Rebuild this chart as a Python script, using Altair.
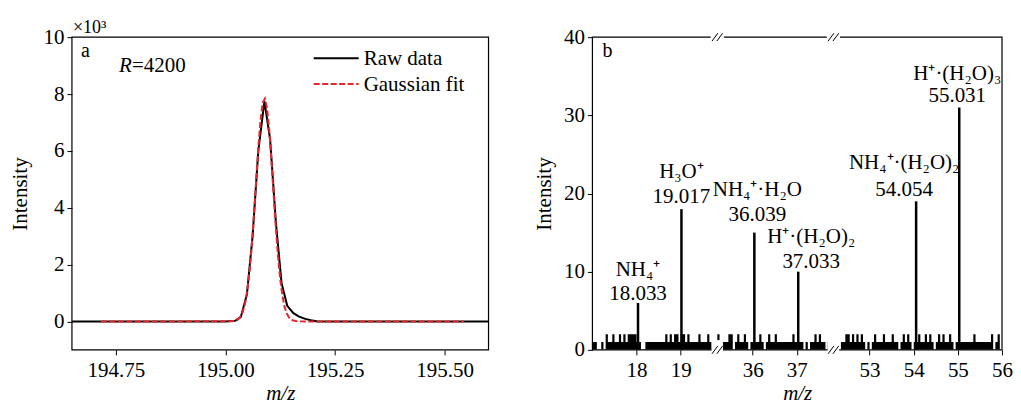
import altair as alt
import pandas as pd

FONT = "Liberation Serif"
RED = "#e8262d"

# ---------------- panel a: single peak ----------------
raw_mz = [194.600, 195.000, 195.022, 195.035, 195.049, 195.062, 195.075, 195.089, 195.102,
          195.115, 195.128, 195.141, 195.155, 195.168, 195.182, 195.195, 195.210, 195.650]
raw_int = [0.0, 0.0, 0.02, 0.15, 0.95, 3.0, 6.0, 7.75, 6.4,
           3.5, 1.35, 0.55, 0.29, 0.17, 0.09, 0.04, 0.0, 0.0]

fit_mz = [194.716, 195.010, 195.020, 195.025, 195.030, 195.035, 195.040, 195.045, 195.050,
          195.055, 195.060, 195.065, 195.070, 195.075, 195.080, 195.085, 195.090, 195.095,
          195.100, 195.105, 195.110, 195.115, 195.120, 195.125, 195.130, 195.135, 195.140,
          195.145, 195.150, 195.155, 195.160, 195.170, 195.544]
fit_int = [0.0, 0.003, 0.017, 0.04, 0.088, 0.183, 0.356, 0.648, 1.106,
           1.77, 2.656, 3.74, 4.93, 6.10, 7.07, 7.69, 7.84, 7.49,
           6.72, 5.64, 4.45, 3.29, 2.28, 1.48, 0.90, 0.51, 0.275,
           0.14, 0.065, 0.03, 0.012, 0.002, 0.0]

a_xdomain = [194.65, 195.60]
a_ydomain = [-1, 10]
a_xticks = [194.75, 195.00, 195.25, 195.50]
a_yticks = [0, 2, 4, 6, 8, 10]
legend_labels = ["Raw data", "Gaussian fit"]

# ---------------- panel b: spectrum with broken axis ----------------
seg_start = [17.0, 35.2, 52.18]
seg_end = [19.83, 37.83, 56.0]
noise_start = [17.0, 35.2, 52.2]
noise_step = 0.05
noise1 = [1, 1, 0, 0, 1, 0, 2, 1, 1, 2, 1, 1, 2, 1, 2, 1, 2, 2, 2, 2,
          1, 1, 0, 0, 1, 1, 1, 1, 1, 1, 1, 1, 1, 2, 1, 2, 1, 2, 2, 1,
          2, 2, 1, 2, 1, 1, 1, 1, 2, 1, 1, 1, 2, 1, 0, 1, 1]
noise2 = [1, 1, 1, 1, 1, 2, 2, 0, 1, 2, 1, 1, 2, 1, 0, 1, 1, 1, 1, 2,
          1, 0, 1, 2, 1, 1, 2, 1, 1, 1, 1, 1, 1, 1, 2, 1, 1, 1, 1, 0,
          1, 0, 1, 1, 2, 1, 2, 1, 1, 0, 1, 1, 1]
noise3 = [1, 1, 0, 1, 1, 2, 2, 1, 2, 1, 2, 1, 2, 1, 0, 1, 0, 1, 2, 1,
          1, 1, 2, 1, 1, 1, 2, 1, 1, 0, 1, 2, 1, 2, 1, 0, 1, 1, 2, 1,
          1, 2, 1, 2, 1, 0, 1, 2, 1, 2, 1, 1, 2, 1, 0, 1, 1, 1, 1, 1,
          1, 1, 1, 2, 1, 1, 1, 1, 1, 1, 1, 2, 0, 1, 2, 0, 1]
peak_mz = [18.033, 19.017, 36.039, 37.033, 54.054, 55.031]
peak_int = [6, 18, 15, 10, 19, 31]
peak_ion = ["NH₄⁺", "H₃O⁺", "NH₄⁺·H₂O", "H⁺·(H₂O)₂", "NH₄⁺·(H₂O)₂", "H⁺·(H₂O)₃"]
peak_text = ["18.033", "19.017", "36.039", "37.033", "54.054", "55.031"]
b_xticks = [18, 19, 36, 37, 53, 54, 55, 56]
b_yticks = [0, 10, 20, 30, 40]
b_ydomain = [0, 40]

# label layout (px): horizontal shift, gap above peak, gap between the two lines
label_dx = [0, 0, 3, 13, -12, -2]
label_gap = [3, 6, 12, 4, 5, 6]
label_line = [24, 25, 25, 25, 27, 22]

W_A, W_B, H = 417, 410, 313
FS = 21

# ---------- broken axis mapping ----------
offsets = []
acc = 0.0
for s, e in zip(seg_start, seg_end):
    offsets.append(acc)
    acc += e - s
TOTAL = acc


def brk(mz):
    for s, e, o in zip(seg_start, seg_end, offsets):
        if s - 1e-9 <= mz <= e + 1e-9:
            return o + mz - s
    return None


def txt(label, x, y, size=FS, style="normal", align="left", baseline="alphabetic"):
    return alt.Chart(pd.DataFrame({"t": [label]})).mark_text(
        font=FONT, fontSize=size, fontStyle=style, align=align, baseline=baseline, color="black"
    ).encode(x=alt.value(x), y=alt.value(y), text="t:N")


# ================= panel a =================
XA = alt.X("x:Q", scale=alt.Scale(domain=a_xdomain, nice=False, zero=False),
           axis=alt.Axis(values=a_xticks, format=".2f", title="m/z", titleFontStyle="italic",
                         labelFlush=False, labelPadding=5, titlePadding=2))
YA = alt.Y("y:Q", scale=alt.Scale(domain=a_ydomain, nice=False, zero=False),
           axis=alt.Axis(values=a_yticks, format="d", title="Intensity", titlePadding=12))

raw_df = pd.DataFrame({"x": raw_mz, "y": raw_int})
fit_df = pd.DataFrame({"x": fit_mz, "y": fit_int})
frame_a_df = pd.DataFrame({"x": [a_xdomain[0]], "x2": [a_xdomain[1]],
                           "y": [a_ydomain[0]], "y2": [a_ydomain[1]]})

frame_a = alt.Chart(frame_a_df).mark_rect(fillOpacity=0, stroke="black", strokeWidth=1.2).encode(
    x=XA, x2="x2:Q", y=YA, y2="y2:Q")
raw_line = alt.Chart(raw_df).mark_line(color="black", strokeWidth=2, clip=True).encode(x=XA, y=YA)
fit_line = alt.Chart(fit_df).mark_line(color=RED, strokeWidth=2, strokeDash=[6, 2.5], clip=True).encode(x=XA, y=YA)

leg1 = alt.Chart(pd.DataFrame({"t": [legend_labels[0]]})).mark_rule(color="black", strokeWidth=2).encode(
    x=alt.value(242), x2=alt.value(287), y=alt.value(21))
leg2 = alt.Chart(pd.DataFrame({"t": [legend_labels[1]]})).mark_rule(
    color=RED, strokeWidth=2, strokeDash=[6, 2.5]).encode(x=alt.value(242), x2=alt.value(287), y=alt.value(47))
legt1 = txt(legend_labels[0], 292, 22, baseline="middle")
legt2 = txt(legend_labels[1], 292, 48, baseline="middle")

lab_a = txt("a", 9, 20, size=20)
r_it = txt("R", 47, 35, style="italic")
r_val = txt("=4200", 60, 35)
expo = txt("×10³", 1, -4, size=18)

panel_a = alt.layer(frame_a, raw_line, fit_line, leg1, leg2, legt1, legt2, lab_a, r_it, r_val, expo).properties(
    width=W_A, height=H)

# ================= panel b =================
label_expr = (
    f"datum.value < {offsets[1] - 1e-6} ? format(datum.value + {seg_start[0] - offsets[0]}, '.0f') : "
    f"datum.value < {offsets[2] - 1e-6} ? format(datum.value + {seg_start[1] - offsets[1]}, '.0f') : "
    f"format(datum.value + {seg_start[2] - offsets[2]}, '.0f')"
)
XB = alt.X("x:Q", scale=alt.Scale(domain=[0, TOTAL], nice=False, zero=False),
           axis=alt.Axis(values=[brk(v) for v in b_xticks], labelExpr=label_expr, title="m/z",
                         titleFontStyle="italic", labelFlush=False, labelPadding=5, titlePadding=2))
YB = alt.Y("y:Q", scale=alt.Scale(domain=b_ydomain, nice=False, zero=False),
           axis=alt.Axis(values=b_yticks, format="d", title="Intensity", titlePadding=9))

noise_rows = []
for k, (arr, ns) in enumerate(zip([noise1, noise2, noise3], noise_start)):
    e = seg_end[k]
    last = None
    for i, v in enumerate(arr):
        mz = ns + i * noise_step
        if mz > e:
            break
        noise_rows.append({"x": brk(mz), "y": v, "seg": k})
        last = v
    noise_rows.append({"x": brk(e), "y": last, "seg": k})
noise_df = pd.DataFrame(noise_rows)

peaks_df = pd.DataFrame({"x": [brk(m) for m in peak_mz], "y": peak_int, "y0": [0] * len(peak_mz)})

frame_b_df = pd.DataFrame({"x": [0.0], "x2": [TOTAL], "y": [b_ydomain[0]], "y2": [b_ydomain[1]]})
frame_b = alt.Chart(frame_b_df).mark_rect(fillOpacity=0, stroke="black", strokeWidth=1.2).encode(
    x=XB, x2="x2:Q", y=YB, y2="y2:Q")

noise = alt.Chart(noise_df).mark_area(interpolate="step-after", color="black", clip=True).encode(
    x=XB, y=YB, detail="seg:N")
peaks = alt.Chart(peaks_df).mark_rule(color="black", strokeWidth=2.5).encode(x=XB, y=YB, y2="y0:Q")

breaks = offsets[1:]
white_rows, slash_rows = [], []
for b in breaks:
    white_rows.append({"x": b - 0.15, "x2": b + 0.15, "y": 39.55, "y2": 40.45})
    white_rows.append({"x": b - 0.13, "x2": b + 0.13, "y": -0.45, "y2": 1.25})
    for yb in [0, 40]:
        for k in [-1, 1]:
            c = b + k * 0.055
            slash_rows.append({"x": c - 0.065, "x2": c + 0.065, "y": yb - 0.5, "y2": yb + 0.5})
white = alt.Chart(pd.DataFrame(white_rows)).mark_rect(color="white").encode(
    x=XB, x2="x2:Q", y=YB, y2="y2:Q")
slashes = alt.Chart(pd.DataFrame(slash_rows)).mark_rule(color="black", strokeWidth=1).encode(
    x=XB, x2="x2:Q", y=YB, y2="y2:Q")

ann_layers = []
for i in range(len(peak_mz)):
    d = pd.DataFrame({"x": [brk(peak_mz[i])], "y": [peak_int[i]],
                      "ion": [peak_ion[i]], "num": [peak_text[i]]})
    base = alt.Chart(d)
    ann_layers.append(base.mark_text(font=FONT, fontSize=FS, align="center", baseline="alphabetic",
                                     dx=label_dx[i], dy=-label_gap[i], color="black").encode(
        x=XB, y=YB, text="num:N"))
    ann_layers.append(base.mark_text(font=FONT, fontSize=FS, align="center", baseline="alphabetic",
                                     dx=label_dx[i], dy=-label_gap[i] - label_line[i], color="black").encode(
        x=XB, y=YB, text="ion:N"))

lab_b = txt("b", 10, 20, size=20)

panel_b = alt.layer(frame_b, noise, peaks, white, slashes, *ann_layers, lab_b).properties(
    width=W_B, height=H)

chart = alt.hconcat(panel_a, panel_b, spacing=44,
                    padding={"left": 2, "top": 11, "right": 0, "bottom": 0}).configure(
    font=FONT).configure_view(stroke=None).configure_axis(
    labelFont=FONT, labelFontSize=FS, labelColor="black", titleFont=FONT, titleFontSize=FS,
    titleFontWeight="normal", titleColor="black", tickColor="black", tickSize=5, tickWidth=1,
    domain=False, grid=False, labelPadding=3)

chart.save("out.html", embed_options={"renderer": "svg", "actions": False})
